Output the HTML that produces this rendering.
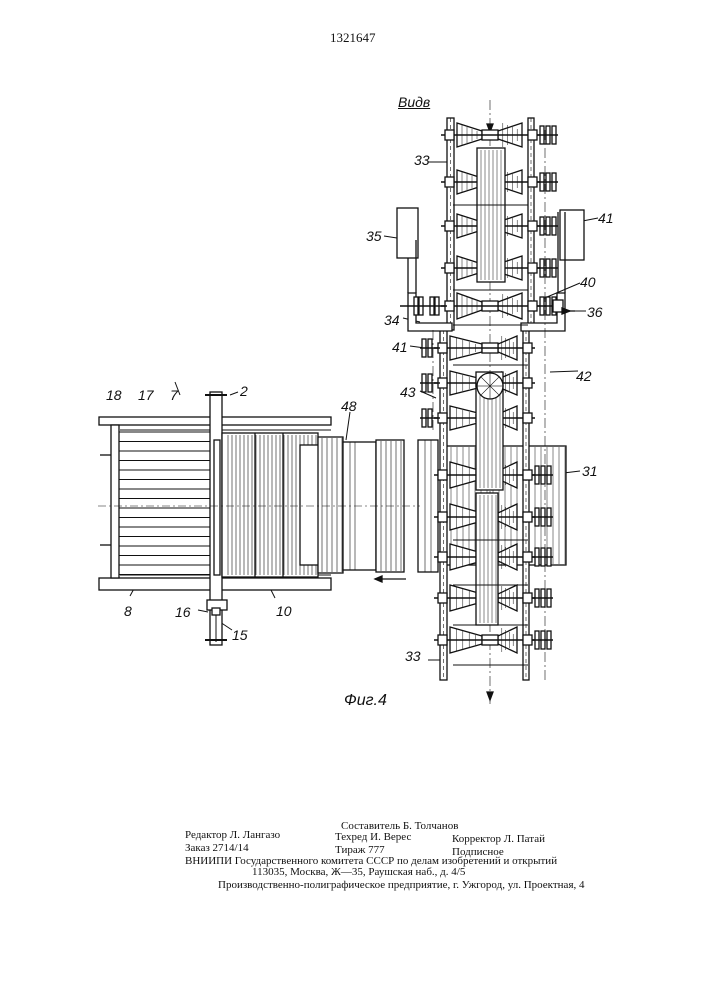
<!DOCTYPE html>
<html><head><meta charset="utf-8"><style>
html,body{margin:0;padding:0;background:#fff;}
#c{position:relative;width:707px;height:1000px;overflow:hidden;font-family:"Liberation Serif",serif;color:#111;}
.t{position:absolute;white-space:nowrap;font-size:11px;line-height:11px;}
.l{position:absolute;font-family:"Liberation Sans",sans-serif;font-style:italic;font-size:14px;}
svg{position:absolute;left:0;top:0;}
</style></head><body><div id="c">
<svg id="s" width="707" height="1000" stroke="#111" fill="none" stroke-width="1.3"></svg>
<div class="t" style="left:330px;top:32px;font-size:13px;">1321647</div>
<div class="l" style="left:398px;top:94px;text-decoration:underline;">Видв</div>
<div class="l" style="left:414px;top:152px;">33</div>
<div class="l" style="left:366px;top:228px;">35</div>
<div class="l" style="left:598px;top:210px;">41</div>
<div class="l" style="left:580px;top:274px;">40</div>
<div class="l" style="left:587px;top:304px;">36</div>
<div class="l" style="left:384px;top:312px;">34</div>
<div class="l" style="left:392px;top:339px;">41</div>
<div class="l" style="left:576px;top:368px;">42</div>
<div class="l" style="left:400px;top:384px;">43</div>
<div class="l" style="left:106px;top:387px;">18</div>
<div class="l" style="left:138px;top:387px;">17</div>
<div class="l" style="left:170px;top:387px;">7</div>
<div class="l" style="left:240px;top:383px;">2</div>
<div class="l" style="left:341px;top:398px;">48</div>
<div class="l" style="left:582px;top:463px;">31</div>
<div class="l" style="left:124px;top:603px;">8</div>
<div class="l" style="left:276px;top:603px;">10</div>
<div class="l" style="left:175px;top:604px;">16</div>
<div class="l" style="left:232px;top:627px;">15</div>
<div class="l" style="left:405px;top:648px;">33</div>
<div class="l" style="left:344px;top:692px;font-size:16px;">Фиг.4</div>
<div class="t" style="left:341px;top:821px;">Составитель Б. Толчанов</div>
<div class="t" style="left:185px;top:830px;">Редактор Л. Лангазо</div>
<div class="t" style="left:335px;top:832px;">Техред И. Верес</div>
<div class="t" style="left:452px;top:834px;">Корректор Л. Патай</div>
<div class="t" style="left:185px;top:843px;">Заказ 2714/14</div>
<div class="t" style="left:335px;top:845px;">Тираж 777</div>
<div class="t" style="left:452px;top:847px;">Подписное</div>
<div class="t" style="left:185px;top:856px;">ВНИИПИ Государственного комитета СССР по делам изобретений и открытий</div>
<div class="t" style="left:252px;top:867px;">113035, Москва, Ж—35, Раушская наб., д. 4/5</div>
<div class="t" style="left:218px;top:880px;">Производственно-полиграфическое предприятие, г. Ужгород, ул. Проектная, 4</div>
</div>
<script>
(function(){
var s=document.getElementById('s'),h='';
function L(a,b,c,d,w,da){h+='<line x1="'+a+'" y1="'+b+'" x2="'+c+'" y2="'+d+'"'+(w?' stroke-width="'+w+'"':'')+(da?' stroke-dasharray="'+da+'"':'')+'/>';}
function R(x,y,w,hh,f){h+='<rect x="'+x+'" y="'+y+'" width="'+w+'" height="'+hh+'"'+(f?' fill="'+f+'"':' fill="#fff"')+'/>';}
L(428,162,447,162,1);L(384,236,410,240,1);L(562,225,598,218,1);L(540,300,580,283,1);L(558,311,586,311,1);
L(403,318,420,322,1);L(410,346,425,348,1);L(420,391,436,398,1);L(550,372,578,371,1);L(547,475,580,471,1);
L(428,660,440,660,1);L(175,382,180,395,1);L(230,395,238,392,1);L(350,412,346,440,1);L(130,596,136,585,1);
L(275,598,270,588,1);L(198,610,208,612,1);L(232,630,220,622,1);
R(99,417,232,8);R(99,578,232,12);R(111,425,8,153);
for(var y=432;y<576;y+=9.5)L(119,y,210,y,1);
L(120,430,331,430,1);L(120,575,331,575,1);
L(100,455,111,455);L(100,545,111,545);
R(210,392,12,253);R(214,440,6,135);
L(205,395,227,395,2);L(205,640,227,640,2);
R(207,600,20,10);R(212,608,8,7);L(216,615,216,642,1);
R(222,433,96,144);
for(var x=228;x<318;x+=4)L(x,435,x,575,0.6);
L(255,433,255,577,1.3);L(283,433,283,577,1.3);
R(300,445,20,120);R(318,437,25,136);
for(var x=322;x<343;x+=5)L(x,438,x,572,0.6);
R(343,442,33,128);L(350,442,350,570,0.6);L(355,442,355,570,0.6);
R(376,440,28,132);for(var x=381;x<404;x+=5)L(x,441,x,571,0.6);
R(418,440,20,132);L(425,440,425,572,0.6);L(431,440,431,572,0.6);
L(98,506,420,506,0.6,'8,3,2,3');
L(375,579,406,579,1.3);h+='<path d="M375,579 l7,-3 v6z" fill="#111"/>';
R(441,446,125,119);for(var x=445;x<566;x+=6)L(x,447,x,564,0.5);
function rails(y1,y2,xl,xr){R(xl,y1,7,y2-y1);R(xr,y1,6,y2-y1);L(xl+3.5,y1,xl+3.5,y2,0.6,'4,3');L(xr+3,y1,xr+3,y2,0.6,'4,3');}
rails(118,330,447,528);rails(330,680,440,523);
h+='<path d="M408,293 h8 v30 h36 v8 h-44z" fill="#fff"/>';h+='<path d="M565,293 h-8 v30 h-36 v8 h44z" fill="#fff"/>';
R(397,208,21,50);R(560,210,24,50);L(408,258,408,293);L(416,240,416,293);L(565,212,565,293);L(558,212,558,293);
L(490,100,490,705,0.6,'10,3,2,3');h+='<path d="M490,132 l-3,-8 h6z M490,700 l-3,-8 h6z" fill="#111"/>';
L(545,130,545,680,0.6,'10,3,2,3');L(433,330,433,430,0.6,'10,3,2,3');
function roller(y,xl,xr,sz,tx){var c=490;
 h+='<path d="M'+(xl+10)+','+(y-sz)+' L'+(c-8)+','+(y-4)+' L'+(c-8)+','+(y+4)+' L'+(xl+10)+','+(y+sz)+'z" fill="#fff"/>';
 h+='<path d="M'+(xr-6)+','+(y-sz)+' L'+(c+8)+','+(y-4)+' L'+(c+8)+','+(y+4)+' L'+(xr-6)+','+(y+sz)+'z" fill="#fff"/>';
 for(var i=1;i<5;i++){var xx=xl+10+i*(c-8-xl-10)/5;L(xx,y-sz+i*2,xx,y+sz-i*2,0.5);xx=c+8+i*(xr-6-c-8)/5;L(xx,y-4-(5-i)*2,xx,y+4+(5-i)*2,0.5);}
 R(c-8,y-5,16,10);L(xl-6,y,xr+12,y,1.5);R(xl-2,y-5,9,10);R(xr,y-5,9,10);
 if(tx){var gx=tx;for(var k=0;k<3;k++)R(gx+k*6,y-9,4,18);L(gx-3,y,gx+18,y,1.5);}}
var ups=[135,182,226,268];ups.forEach(function(y){roller(y,447,528,12,540);});
roller(306,447,528,13,540);
[414,430].forEach(function(g){for(var k=0;k<2;k++)R(g+k*5,297,4,18);});L(400,306,447,306,1.5);
R(553,300,10,12);h+='<path d="M570,311 l-8,-3 v6z" fill="#111"/>';L(562,311,575,311);
[348,383,418].forEach(function(y){roller(y,440,523,12,0);R(422,y-9,4,18);R(428,y-9,4,18);L(420,y,440,y,1.5);});
[475,517,557,598,640].forEach(function(y){roller(y,440,523,13,535);});
R(477,148,28,134);for(var x=481;x<505;x+=4)L(x,150,x,280,0.5);
R(476,372,27,118);for(var x=480;x<503;x+=4)L(x,380,x,488,0.5);
R(476,493,22,132);for(var x=480;x<498;x+=4)L(x,495,x,623,0.5);
h+='<circle cx="490" cy="386" r="13" fill="#fff"/>';for(var a=0;a<8;a++){var r=a*Math.PI/4;L(490,386,490+13*Math.cos(r),386+13*Math.sin(r),0.6);}
[205,290,325,365,540,585,625,665].forEach(function(y){L(453,y,528,y,1);});
s.innerHTML=h;
})();
</script>
</body></html>
